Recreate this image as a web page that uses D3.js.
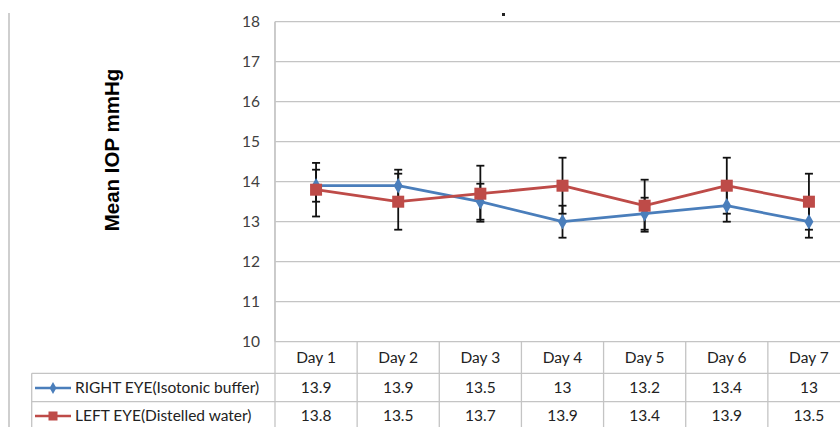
<!DOCTYPE html>
<html>
<head>
<meta charset="utf-8">
<script src="https://cdn.jsdelivr.net/npm/d3@7/dist/d3.min.js"></script>
<style>
  html, body { margin: 0; padding: 0; background: #fff; }
  svg { display: block; }
</style>
</head>
<body>
<svg id="chart" width="840" height="427"></svg>
<script>
const days = ["Day 1", "Day 2", "Day 3", "Day 4", "Day 5", "Day 6", "Day 7"];
const seriesNames = ["RIGHT EYE(Isotonic buffer)", "LEFT EYE(Distelled water)"];
const rightEye = [13.9, 13.9, 13.5, 13, 13.2, 13.4, 13];
const leftEye = [13.8, 13.5, 13.7, 13.9, 13.4, 13.9, 13.5];
const rightErr = [0.4, 0.4, 0.45, 0.4, 0.4, 0.4, 0.4];
const leftErr = [0.67, 0.7, 0.7, 0.7, 0.65, 0.7, 0.7];
const yTicks = [10, 11, 12, 13, 14, 15, 16, 17, 18];
const yTitle = "Mean IOP mmHg";

const svg = d3.select("#chart");
const plotLeft = 275, plotRight = 850, plotTop = 21.7, plotBottom = 341.7;
const legendLeft = 31.7;
const rowLines = [373.3, 401.7];
const tableBottom = 440;

const x = d3.scaleBand().domain(days).range([plotLeft, plotRight]).padding(0);
const y = d3.scaleLinear().domain([10, 18]).range([plotBottom, plotTop]);
const cx = d => x(d) + x.bandwidth() / 2;

const gridColor = "#c4c4c4";

// outer chart border (left)
svg.append("line").attr("x1", 9).attr("x2", 9).attr("y1", 13).attr("y2", 427)
  .attr("stroke", "#cfcfcf").attr("stroke-width", 2);

// tiny remnant of a title
svg.append("rect").attr("x", 502).attr("y", 13).attr("width", 3).attr("height", 3).attr("fill", "#222");

// gridlines
svg.append("g").selectAll("line").data(yTicks.filter(t => t > 10)).join("line")
  .attr("x1", plotLeft).attr("x2", plotRight)
  .attr("y1", d => y(d)).attr("y2", d => y(d))
  .attr("stroke", gridColor).attr("stroke-width", 1.3);

// y axis via d3.axisLeft, styled
const yAxis = svg.append("g").attr("transform", `translate(${plotLeft},0)`)
  .call(d3.axisLeft(y).tickValues(yTicks).tickSize(0).tickPadding(15).tickFormat(d3.format("d")));
yAxis.select(".domain").attr("stroke", gridColor).attr("stroke-width", 1.3)
  .attr("d", `M0,${plotTop}V${plotBottom}`);
yAxis.selectAll("text").attr("font-family", "Lato, 'Open Sans', sans-serif")
  .attr("font-size", 15.5).attr("fill", "#404040");

// y title
svg.append("text")
  .attr("transform", `translate(119,150) rotate(-90)`)
  .attr("text-anchor", "middle")
  .attr("font-family", "'Liberation Sans', Arial, sans-serif")
  .attr("font-weight", "bold").attr("font-size", 20.5).attr("fill", "#000")
  .text(yTitle);

// data table
const tbl = svg.append("g");
tbl.append("line").attr("x1", plotLeft).attr("x2", plotRight).attr("y1", plotBottom).attr("y2", plotBottom)
  .attr("stroke", gridColor).attr("stroke-width", 1.3);
rowLines.forEach(ry => {
  tbl.append("line").attr("x1", legendLeft).attr("x2", plotRight).attr("y1", ry).attr("y2", ry)
    .attr("stroke", gridColor).attr("stroke-width", 1.3);
});
tbl.append("line").attr("x1", legendLeft).attr("x2", legendLeft).attr("y1", rowLines[0]).attr("y2", tableBottom)
  .attr("stroke", gridColor).attr("stroke-width", 1.3);
tbl.selectAll("line.v").data(days.concat(["end"])).join("line").attr("class", "v")
  .attr("x1", (d, i) => plotLeft + i * x.bandwidth()).attr("x2", (d, i) => plotLeft + i * x.bandwidth())
  .attr("y1", (d, i) => i === 0 ? plotTop : plotBottom).attr("y2", tableBottom)
  .attr("stroke", gridColor).attr("stroke-width", 1.3);

const tFont = "Lato, 'Open Sans', sans-serif";
tbl.selectAll("text.hdr").data(days).join("text").attr("class", "hdr")
  .attr("x", d => cx(d)).attr("y", 363).attr("text-anchor", "middle")
  .attr("font-family", tFont).attr("font-size", 15.5).attr("fill", "#222").text(d => d);

const rowsData = [rightEye, leftEye];
const rowY = [393, 421];
rowsData.forEach((vals, r) => {
  tbl.selectAll(`text.r${r}`).data(vals).join("text").attr("class", `r${r}`)
    .attr("x", (d, i) => cx(days[i])).attr("y", rowY[r]).attr("text-anchor", "middle")
    .attr("font-family", tFont).attr("font-size", 15.5).attr("fill", "#222").text(d => d);
});

const colors = ["#4a7ebb", "#be4b48"];

// legend keys in table
seriesNames.forEach((name, r) => {
  const ly = rowY[r] - 5;
  tbl.append("line").attr("x1", 35).attr("x2", 71).attr("y1", ly).attr("y2", ly)
    .attr("stroke", colors[r]).attr("stroke-width", 2.5);
  if (r === 0) {
    tbl.append("path").attr("d", d3.symbol(d3.symbolDiamond, 40)()).attr("transform", `translate(53,${ly})`)
      .attr("fill", colors[r]);
  } else {
    tbl.append("rect").attr("x", 48.5).attr("y", ly - 4.5).attr("width", 9).attr("height", 9).attr("fill", colors[r]);
  }
  tbl.append("text").attr("x", 75).attr("y", rowY[r]).attr("font-family", tFont)
    .attr("font-size", 15.5).attr("fill", "#222").text(name);
});

// error bars
const series = [{vals: rightEye, err: rightErr}, {vals: leftEye, err: leftErr}];
const eb = svg.append("g");
series.forEach(s => {
  s.vals.forEach((v, i) => {
    const px = cx(days[i]);
    const top = y(v + s.err[i]), bot = y(v - s.err[i]);
    eb.append("line").attr("x1", px).attr("x2", px).attr("y1", top).attr("y2", bot)
      .attr("stroke", "#111").attr("stroke-width", 1.8);
    [top, bot].forEach(cy => {
      eb.append("line").attr("x1", px - 4).attr("x2", px + 4).attr("y1", cy).attr("y2", cy)
        .attr("stroke", "#111").attr("stroke-width", 1.8);
    });
  });
});

// lines and markers
const line = d3.line().x((d, i) => cx(days[i])).y(d => y(d));
series.forEach((s, r) => {
  svg.append("path").datum(s.vals).attr("d", line).attr("fill", "none")
    .attr("stroke", colors[r]).attr("stroke-width", 2.8).attr("stroke-linejoin", "round");
});
svg.append("g").selectAll("path").data(rightEye).join("path")
  .attr("d", d3.symbol(d3.symbolDiamond, 70)())
  .attr("transform", (d, i) => `translate(${cx(days[i])},${y(d)})`)
  .attr("fill", colors[0]);
svg.append("g").selectAll("rect").data(leftEye).join("rect")
  .attr("x", (d, i) => cx(days[i]) - 6).attr("y", d => y(d) - 6)
  .attr("width", 12).attr("height", 12).attr("fill", colors[1]);
</script>
</body>
</html>
